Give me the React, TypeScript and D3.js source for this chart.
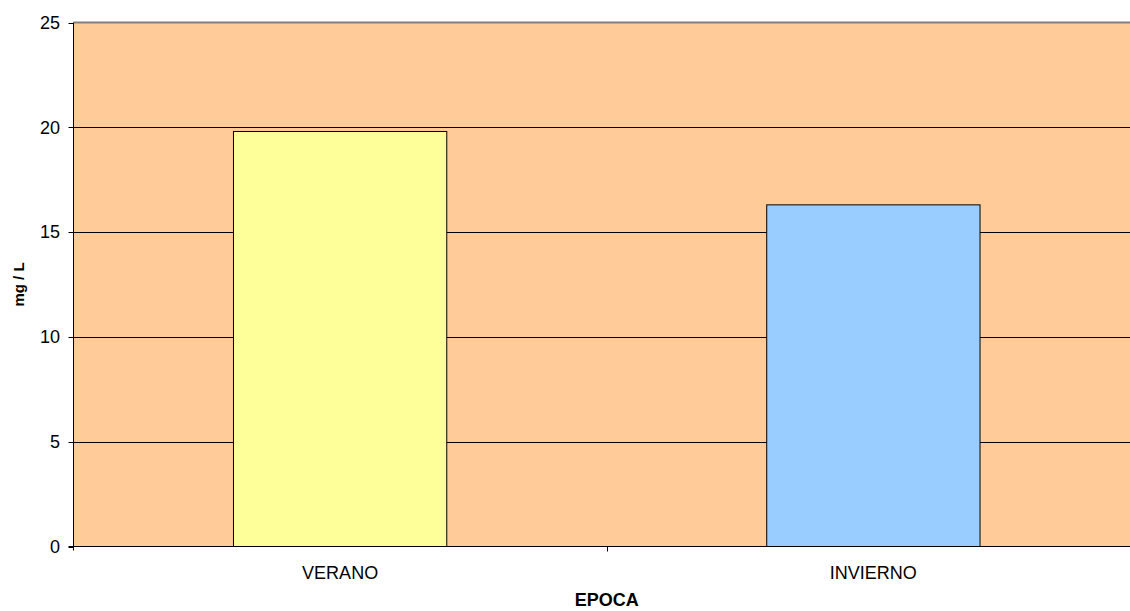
import React from "react";
import * as d3 from "d3";

const categories = ["VERANO", "INVIERNO"];
const values = [19.8, 16.3];
const barColors = ["#FFFF99", "#99CCFF"];
const yTicks = [0, 5, 10, 15, 20, 25];

const W = 1130;
const H = 611;
const plot = { left: 73.5, right: 1140, top: 22.5, bottom: 546.5 };

export default function App() {
  const x = d3
    .scaleBand<string>()
    .domain(categories)
    .range([plot.left, plot.right])
    .paddingInner(0.6)
    .paddingOuter(0.3);
  const band = d3.scaleBand<string>().domain(categories).range([plot.left, plot.right]);
  const y = d3.scaleLinear().domain([0, 25]).range([plot.bottom, plot.top]);
  const font = "Arial, 'Liberation Sans', sans-serif";

  return (
    <svg
      width={W}
      height={H}
      style={{ position: "absolute", left: 0, top: 0, display: "block" }}
      fontFamily={font}
    >
      <rect x={0} y={0} width={W} height={H} fill="#fff" />
      <rect
        x={plot.left}
        y={plot.top}
        width={plot.right - plot.left}
        height={plot.bottom - plot.top}
        fill="#FFCC99"
      />
      {yTicks.slice(1, -1).map((t) => (
        <line key={t} x1={plot.left} x2={plot.right} y1={Math.round(y(t)) + 0.5} y2={Math.round(y(t)) + 0.5} stroke="#000" strokeWidth={1} />
      ))}
      <line x1={plot.left} x2={plot.right} y1={plot.top} y2={plot.top} stroke="#808080" strokeWidth={2} />
      {categories.map((c, i) => (
        <rect
          key={c}
          x={x(c)}
          y={y(values[i])}
          width={x.bandwidth()}
          height={y(0) - y(values[i])}
          fill={barColors[i]}
          stroke="#000"
          strokeWidth={1}
        />
      ))}
      {/* axes */}
      <line x1={plot.left} x2={plot.left} y1={plot.top} y2={plot.bottom + 4} stroke="#000" />
      <line x1={plot.left - 5} x2={plot.right} y1={plot.bottom} y2={plot.bottom} stroke="#000" />
      {yTicks.map((t) => (
        <g key={t}>
          <line x1={plot.left - 5} x2={plot.left} y1={Math.round(y(t)) + 0.5} y2={Math.round(y(t)) + 0.5} stroke="#000" />
          <text x={60} y={y(t)} dy="0.35em" textAnchor="end" fontSize={18} fill="#000">
            {t}
          </text>
        </g>
      ))}
      {categories.slice(1).map((c) => (
        <line key={c} x1={Math.round(band(c)!) + 0.5} x2={Math.round(band(c)!) + 0.5} y1={plot.bottom} y2={plot.bottom + 5} stroke="#000" />
      ))}
      {categories.map((c) => (
        <text key={c} x={x(c)! + x.bandwidth() / 2} y={579} textAnchor="middle" fontSize={18} fill="#000">
          {c}
        </text>
      ))}
      <text x={(plot.left + plot.right) / 2} y={606} textAnchor="middle" fontSize={18} fontWeight="bold" fill="#000">
        EPOCA
      </text>
      <text
        transform={`translate(24, ${(plot.top + plot.bottom) / 2}) rotate(-90)`}
        textAnchor="middle"
        fontSize={15}
        fontWeight="bold"
        fill="#000"
      >
        mg / L
      </text>
    </svg>
  );
}
